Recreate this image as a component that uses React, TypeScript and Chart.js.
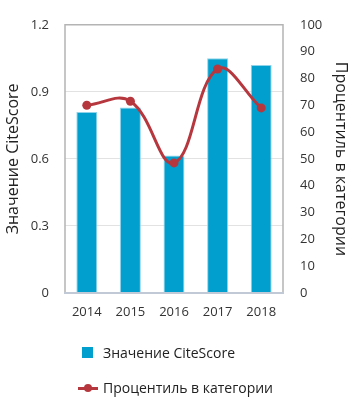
import React, { useEffect, useRef } from "react";
import { Chart, registerables } from "chart.js";

Chart.register(...registerables);

const years = ["2014", "2015", "2016", "2017", "2018"];
const citeScore = [0.81, 0.83, 0.615, 1.05, 1.02];
const percentile = [70, 71.5, 48.5, 83.5, 69];
const leftTitle = "Значение CiteScore";
const rightTitle = "Процентиль в категории";

const FONT = "'Open Sans', 'Noto Sans', sans-serif";
const BAR = "#009fcd";
const LINE = "#b7373e";

const framePlugin = {
  id: "frame",
  afterDraw(chart: any) {
    const { ctx, chartArea: a } = chart;
    ctx.save();
    ctx.strokeStyle = "#b4b4b4";
    ctx.lineWidth = 1.5;
    ctx.beginPath();
    ctx.moveTo(a.left, a.bottom);
    ctx.lineTo(a.left, a.top);
    ctx.lineTo(a.right, a.top);
    ctx.lineTo(a.right, a.bottom);
    ctx.stroke();
    ctx.strokeStyle = "#c2c9d6";
    ctx.lineWidth = 2;
    ctx.beginPath();
    ctx.moveTo(a.left - 1, a.bottom);
    ctx.lineTo(a.right + 1, a.bottom);
    ctx.stroke();
    ctx.restore();
  },
};

export default function App() {
  const ref = useRef<HTMLCanvasElement>(null);
  useEffect(() => {
    const chart = new Chart(ref.current!, {
      type: "bar",
      data: {
        labels: years,
        datasets: [
          {
            type: "line",
            label: rightTitle,
            data: percentile,
            yAxisID: "y1",
            borderColor: LINE,
            backgroundColor: LINE,
            borderWidth: 3,
            pointRadius: 4.5,
            pointBackgroundColor: LINE,
            pointBorderWidth: 0,
            tension: 0.4,
            order: 0,
          },
          {
            type: "bar",
            label: leftTitle,
            data: citeScore,
            yAxisID: "y",
            backgroundColor: BAR,
            borderColor: "#8fd3ea",
            borderWidth: 1,
            categoryPercentage: 1,
            barPercentage: 0.48,
            order: 1,
          },
        ],
      },
      options: {
        responsive: false,
        animation: false,
        layout: { padding: { top: 10, left: 0, right: 0, bottom: 0 } },
        plugins: { legend: { display: false }, tooltip: { enabled: false } },
        scales: {
          x: {
            grid: { display: false, drawTicks: false },
            border: { display: false },
            ticks: { padding: 11, color: "#333", font: { family: FONT, size: 13 } },
            afterFit: (s: any) => {
              s.height = 110;
            },
          },
          y: {
            position: "left",
            min: 0,
            max: 1.2,
            ticks: {
              stepSize: 0.3,
              padding: 16,
              color: "#333",
              font: { family: FONT, size: 13 },
              callback: (v: any) => (v === 0 ? "0" : Number(v).toFixed(1)),
            },
            grid: { color: "#e2e2e2", lineWidth: 1, drawTicks: false },
            border: { display: false },
            title: {
              display: true,
              text: leftTitle,
              color: "#222",
              font: { family: FONT, size: 16 },
              padding: { top: 4, bottom: 0 },
            },
            afterFit: (s: any) => {
              s.width = 65;
            },
          },
          y1: {
            position: "right",
            min: 0,
            max: 100,
            ticks: {
              stepSize: 10,
              padding: 17,
              color: "#333",
              font: { family: FONT, size: 13 },
            },
            grid: { display: false, drawTicks: false },
            border: { display: false },
            title: {
              display: true,
              text: rightTitle,
              color: "#222",
              font: { family: FONT, size: 16 },
              padding: { top: 3, bottom: 0 },
            },
            afterFit: (s: any) => {
              s.width = 70;
            },
          },
        },
      },
      plugins: [framePlugin],
    });
    return () => chart.destroy();
  }, []);

  const textStyle: React.CSSProperties = {
    position: "absolute",
    left: 103,
    fontFamily: FONT,
    fontSize: 14,
    color: "#222",
    lineHeight: "16px",
    whiteSpace: "nowrap",
  };

  return (
    <div style={{ position: "absolute", left: 0, top: 0, width: 353, height: 403, background: "#fff" }}>
      <canvas ref={ref} width={353} height={403} style={{ display: "block" }} />
      <div style={{ position: "absolute", left: 82, top: 347, width: 11, height: 11, background: BAR }} />
      <div style={{ ...textStyle, top: 344.5 }}>{leftTitle}</div>
      <div style={{ position: "absolute", left: 78, top: 386.5, width: 20, height: 3, background: LINE }} />
      <div style={{ position: "absolute", left: 84, top: 384, width: 8, height: 8, borderRadius: 4, background: LINE }} />
      <div style={{ ...textStyle, top: 380 }}>{rightTitle}</div>
    </div>
  );
}
